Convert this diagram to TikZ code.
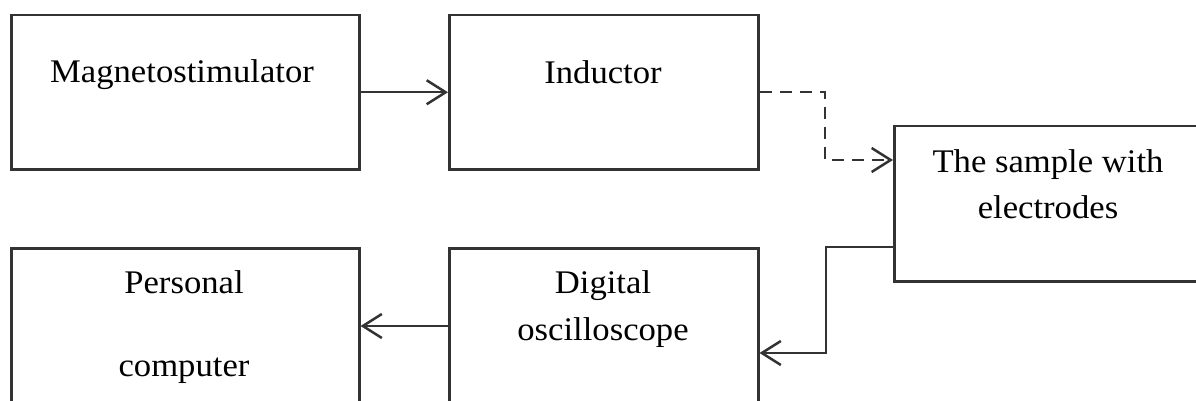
\documentclass[tikz,border=0pt]{standalone}
\usepackage{fontspec}
\usepackage{graphicx}
\setmainfont{Liberation Serif}
\usetikzlibrary{arrows.meta,calc}
\newcommand{\wtxt}[1]{\scalebox{1.05}[1]{#1}}
\tikzset{
  blk/.style={draw=black!80, line width=2.5pt, inner sep=0pt, anchor=north west},
  lbl/.style={font=\fontsize{33}{38}\selectfont, anchor=base, inner sep=0pt, text=black},
  conn/.style={draw=black!80, line width=2.5pt, -{Straight Barb[length=19pt,width=24pt,line width=2.5pt]}},
}
\begin{document}
\begin{tikzpicture}[x=1pt,y=-1pt]
\useasboundingbox (0,0) rectangle (1196,401);
% boxes
\node[blk, minimum width=348pt, minimum height=154pt] (mag) at (10,14) {};
\node[blk, minimum width=309pt, minimum height=154pt] (ind) at (448,14) {};
\node[blk, minimum width=312pt, minimum height=155pt] (samp) at (893,125) {};
\node[blk, minimum width=348pt, minimum height=158pt] (pc) at (10,247) {};
\node[blk, minimum width=309pt, minimum height=158pt] (osc) at (448,247) {};
% texts
\node[lbl] (tmag) at (182,83) {\wtxt{Magnetostimulator}};
\node[lbl] (tind) at (603,84) {\wtxt{Inductor}};
\node[lbl] (tsamp1) at (1048,172) {\wtxt{The sample with}};
\node[lbl] (tsamp2) at (1048,218) {\wtxt{electrodes}};
\node[lbl] (tpc1) at (184,293) {\wtxt{Personal}};
\node[lbl] (tpc2) at (184,376) {\wtxt{computer}};
\node[lbl] (tosc1) at (603,293) {\wtxt{Digital}};
\node[lbl] (tosc2) at (603,340) {\wtxt{oscilloscope}};
% helper coordinates
\coordinate (d1) at (825,160);
\coordinate (s1) at (826,247);
\coordinate (s2) at (826,353);
\coordinate (m3) at (403,326);
% connectors
\draw[conn] (mag.east) -- (ind.west);
\draw[conn, dash pattern=on 12pt off 8pt] (ind.east) -| (d1) -- (samp.west |- d1);
\draw[conn] (samp.west |- s1) -- (s1) -- (s2) -- (osc.east |- s2);
\draw[conn] (osc.west |- m3) -- (pc.east |- m3);
\end{tikzpicture}
\end{document}
